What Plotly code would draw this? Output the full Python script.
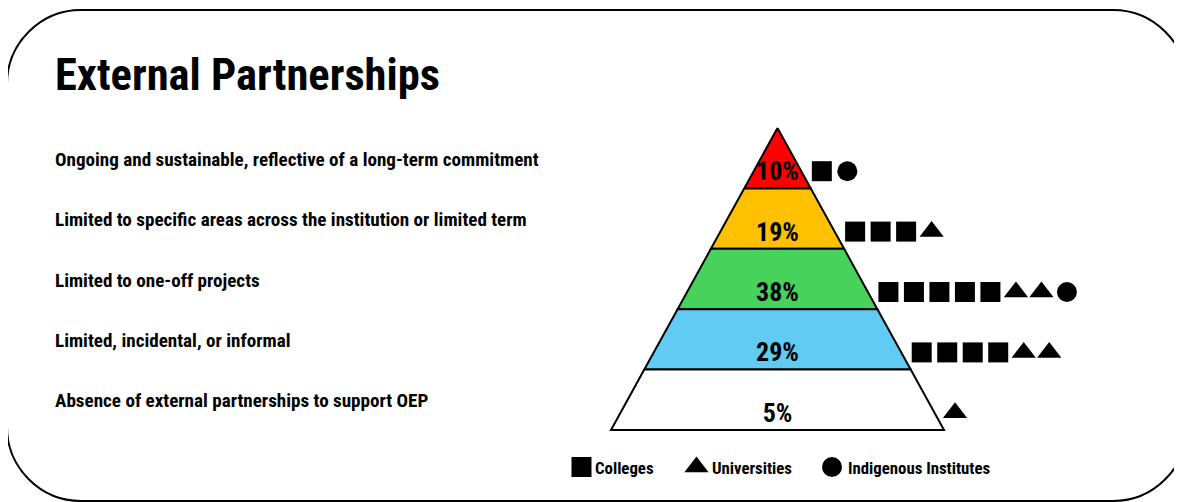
import plotly.graph_objects as go

# data, top level of the pyramid first
levels = [
    "Ongoing and sustainable, reflective of a long-term commitment",
    "Limited to specific areas across the institution or limited term",
    "Limited to one-off projects",
    "Limited, incidental, or informal",
    "Absence of external partnerships to support OEP",
]
percent = [10, 19, 38, 29, 5]
colleges = [1, 3, 5, 4, 0]
universities = [0, 1, 2, 2, 1]
institutes = [1, 0, 1, 0, 0]
band_colors = ["#ff0000", "#ffc000", "#47d35b", "#61cbf3", "#ffffff"]
legend_names = ["Colleges", "Universities", "Indigenous Institutes"]
legend_symbols = ["square", "triangle-up", "circle"]

FONT = "Roboto Condensed, Open Sans Condensed, sans-serif"
W, H = 1182, 502
PAGE_MARGIN = 8  # browser body margin, axes are shifted so 1 unit = 1 screen pixel

# pyramid geometry (pixels)
cx, apex_y, base_y, base_hw = 777.5, 128, 430, 166.5
n = len(levels)
band_h = (base_y - apex_y) / n


def half_width(y):
    return base_hw * (y - apex_y) / (base_y - apex_y)


def sym_size(s):
    return 21 if s == "triangle-up" else 20


fig = go.Figure()

for i in range(n):
    y0 = apex_y + band_h * i
    y1 = y0 + band_h
    xs = [cx - half_width(y0), cx + half_width(y0), cx + half_width(y1), cx - half_width(y1), cx - half_width(y0)]
    ys = [y0, y0, y1, y1, y0]
    fig.add_trace(go.Scatter(
        x=xs, y=ys, mode="lines", fill="toself", fillcolor=band_colors[i],
        line=dict(color="black", width=2), hoverinfo="skip", showlegend=False
    ))

# percentages + institution markers
for i in range(n):
    yc = apex_y + band_h * i + band_h / 2
    ym = yc + 13
    fig.add_trace(go.Scatter(
        x=[cx], y=[ym + 2.5], mode="text", text=[f"{percent[i]}%"],
        textfont=dict(family=FONT, size=26, color="black", weight="bold"),
        showlegend=False, hoverinfo="skip"
    ))
    syms = ["square"] * colleges[i] + ["triangle-up"] * universities[i] + ["circle"] * institutes[i]
    x0 = cx + half_width(ym) + 20.5
    xs = [x0 + 25.5 * k for k in range(len(syms))]
    fig.add_trace(go.Scatter(
        x=xs, y=[ym] * len(syms), mode="markers",
        marker=dict(symbol=syms, size=[sym_size(s) for s in syms], color="black",
                    opacity=1, line=dict(width=0)),
        showlegend=False, hoverinfo="skip"
    ))
    # level description on the left
    fig.add_annotation(
        x=53, y=yc + 1, text=levels[i], showarrow=False, xanchor="left", yanchor="middle",
        font=dict(family=FONT, size=19.1, color="black", weight="bold")
    )

# legend row
legend_mx = [581.5, 696.5, 832]
legend_tx = [593, 710, 846]
for k in range(3):
    fig.add_trace(go.Scatter(
        x=[legend_mx[k]], y=[467], mode="markers",
        marker=dict(symbol=legend_symbols[k], size=sym_size(legend_symbols[k]), color="black",
                    opacity=1, line=dict(width=0)),
        showlegend=False, hoverinfo="skip"
    ))
    fig.add_annotation(
        x=legend_tx[k], y=468, text=legend_names[k], showarrow=False, xanchor="left", yanchor="middle",
        font=dict(family=FONT, size=16.8, color="black", weight="bold")
    )

# title
fig.add_annotation(
    x=53, y=75, text="External Partnerships", showarrow=False, xanchor="left", yanchor="middle",
    font=dict(family=FONT, size=44.5, color="black", weight="bold")
)

# rounded frame (its right side runs past the window edge)
x0, x1, y0, y1, r = 7, 1187, 10, 501, 74
k = 0.55 * r
frame = (
    f"M {x0 + r},{y0} L {x1 - r},{y0} "
    f"C {x1 - r + k},{y0} {x1},{y0 + r - k} {x1},{y0 + r} "
    f"L {x1},{y1 - r} "
    f"C {x1},{y1 - r + k} {x1 - r + k},{y1} {x1 - r},{y1} "
    f"L {x0 + r},{y1} "
    f"C {x0 + r - k},{y1} {x0},{y1 - r + k} {x0},{y1 - r} "
    f"L {x0},{y0 + r} "
    f"C {x0},{y0 + r - k} {x0 + r - k},{y0} {x0 + r},{y0} Z"
)
fig.add_shape(type="path", path=frame, xref="x", yref="y", line=dict(color="black", width=2), layer="below")

fig.update_layout(
    width=W - PAGE_MARGIN, height=H - PAGE_MARGIN,
    margin=dict(l=0, r=0, t=0, b=0),
    paper_bgcolor="white", plot_bgcolor="white",
    xaxis=dict(range=[PAGE_MARGIN, W], visible=False, fixedrange=True),
    yaxis=dict(range=[H, PAGE_MARGIN], visible=False, fixedrange=True),
    font=dict(family=FONT),
)

fig.write_html("out.html")
